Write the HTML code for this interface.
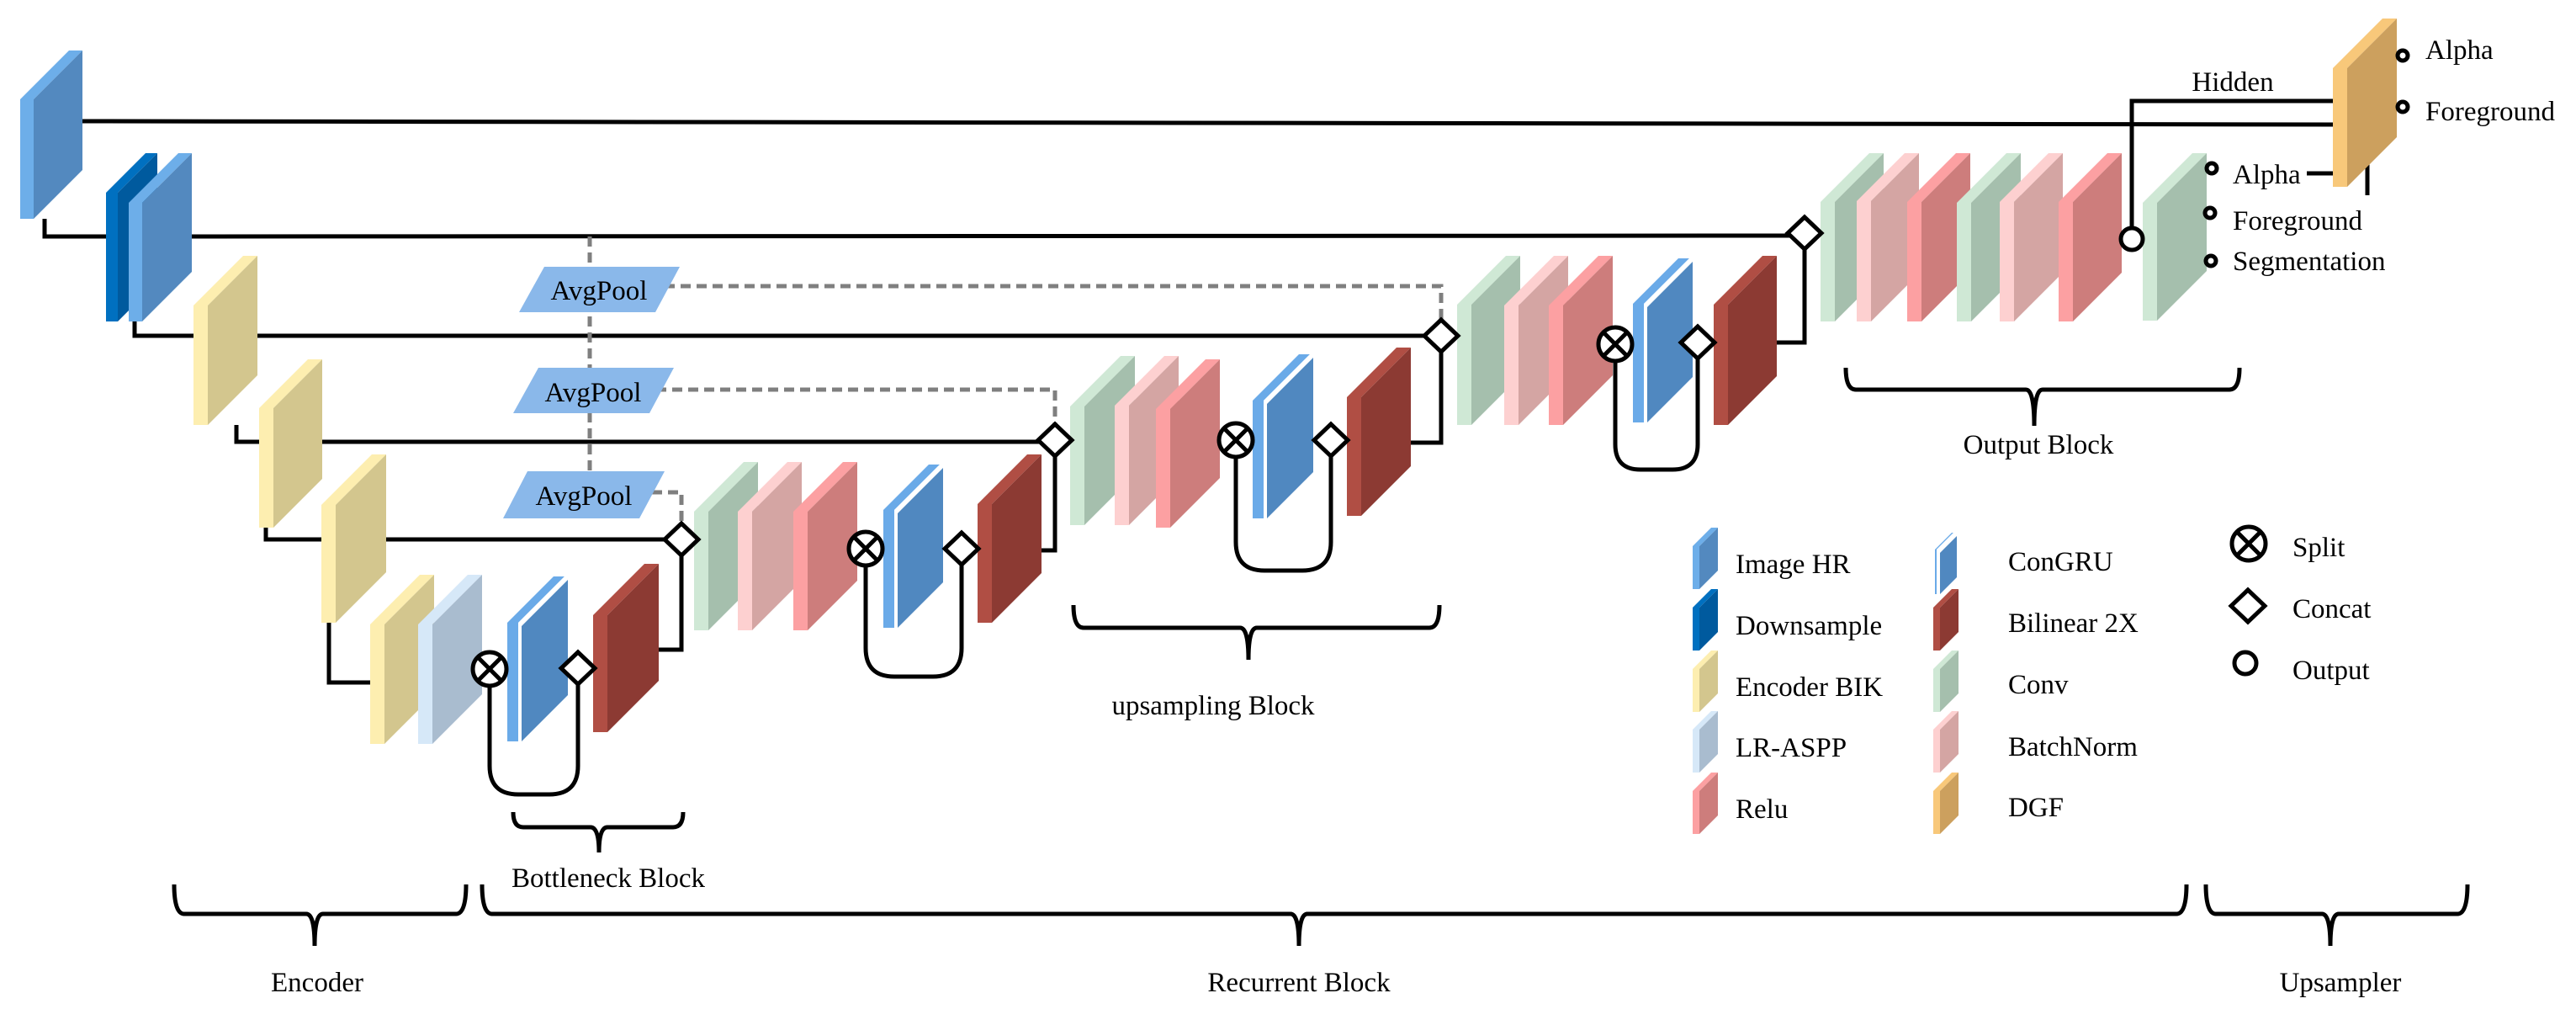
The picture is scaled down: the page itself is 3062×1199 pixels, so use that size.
<!DOCTYPE html>
<html><head><meta charset="utf-8"><style>
html,body{margin:0;padding:0;background:#fff;}
svg{display:block;}
svg text{font-family:"Liberation Serif","Times New Roman",Times,serif;fill:#000;}
</style></head><body>
<svg id="s" width="3062" height="1199" viewBox="0 0 3062 1199" xmlns="http://www.w3.org/2000/svg" font-family="'Liberation Serif','Times New Roman',Times,serif">
<g id="lines" fill="none" stroke="#000" stroke-width="5">
<polyline points="98,144 2773,148"/>
<polyline points="2534,284 2534,120 2773,120"/>
<polyline points="53,260 53,281 126,281"/>
<polyline points="228,281 2145,280"/>
<polyline points="160,382 160,399 1713,399"/>
<polyline points="281,505 281,525 1254,525"/>
<polyline points="316,627 316,641 810,641"/>
<polyline points="391,740 391,811 440,811"/>
<polyline points="783,772 810,772 810,660"/>
<polyline points="1238,654 1254,654 1254,542"/>
<polyline points="1677,526 1713,526 1713,418"/>
<polyline points="2112,407 2145,407 2145,296"/>
<polyline points="2742,206 2773,206"/>
<polyline points="2814,195 2814,232"/>
<path d="M582,815 L582,910 Q582,944 616,944 L653,944 Q687,944 687,910 L687,813"/>
<path d="M1029,672 L1029,770 Q1029,804 1063,804 L1109,804 Q1143,804 1143,770 L1143,671"/>
<path d="M1469,543 L1469,644 Q1469,678 1503,678 L1548,678 Q1582,678 1582,644 L1582,542"/>
<path d="M1920,429 L1920,528 Q1920,558 1950,558 L1988,558 Q2018,558 2018,528 L2018,426"/>
</g>
<g fill="none" stroke="#7f7f7f" stroke-width="5" stroke-dasharray="12 7">
<polyline points="701,281 701,560"/>
<polyline points="790,340 1713,340 1713,380"/>
<polyline points="780,463 1254,463 1254,504"/>
<polyline points="775,585 810,585 810,622"/>
</g>
<g fill="#8ab8ea">
<polygon points="647,317 808,317 779,371 617,371"/>
<polygon points="640,437 801,437 772,491 610,491"/>
<polygon points="627,560 790,560 760,616 598,616"/>
</g>
<g font-size="33" text-anchor="middle" font-family="'Liberation Serif','Times New Roman',Times,serif">
<text x="712" y="356">AvgPool</text>
<text x="705" y="477">AvgPool</text>
<text x="694" y="600">AvgPool</text>
</g>
<g id="blocks"></g>
<g id="marks" fill="#fff" stroke="#000" stroke-width="5"></g>
<g id="braces" fill="none" stroke="#000" stroke-width="5"></g>
<g font-size="33" font-family="'Liberation Serif','Times New Roman',Times,serif">
<text x="2654" y="108" text-anchor="middle">Hidden</text>
<text x="2654" y="218">Alpha</text>
<text x="2654" y="273">Foreground</text>
<text x="2654" y="321">Segmentation</text>
<text x="2883" y="70">Alpha</text>
<text x="2883" y="143">Foreground</text>
<text x="2423" y="539" text-anchor="middle">Output Block</text>
<text x="1442" y="849" text-anchor="middle">upsampling Block</text>
<text x="723" y="1054" text-anchor="middle">Bottleneck Block</text>
<text x="377" y="1178" text-anchor="middle">Encoder</text>
<text x="1544" y="1178" text-anchor="middle">Recurrent Block</text>
<text x="2782" y="1178" text-anchor="middle">Upsampler</text>
<text x="2063" y="681">Image HR</text>
<text x="2063" y="754">Downsample</text>
<text x="2063" y="827">Encoder BIK</text>
<text x="2063" y="899">LR-ASPP</text>
<text x="2063" y="972">Relu</text>
<text x="2387" y="678">ConGRU</text>
<text x="2387" y="751">Bilinear 2X</text>
<text x="2387" y="824">Conv</text>
<text x="2387" y="898">BatchNorm</text>
<text x="2387" y="970">DGF</text>
<text x="2725" y="661">Split</text>
<text x="2725" y="734">Concat</text>
<text x="2725" y="807">Output</text>
</g>
</svg>
<script>
var NS="http://www.w3.org/2000/svg";
var C={hr:["#6daee9","#5389bf"],ds:["#0070c0","#005a9e"],enc:["#fdeeb0","#d3c68e"],lr:["#d6e8f8","#a9bccf"],
gru:["#6aaae8","#5088c0"],bil:["#b04e44","#8c3a33"],conv:["#cfe8d5","#a5bfad"],bn:["#fdd0d0","#d4a5a3"],
relu:["#fca0a2","#cd7d7c"],dgf:["#f8c87a","#cca05e"]};
var B=document.getElementById("blocks");
function poly(pts,fill){var p=document.createElementNS(NS,"polygon");p.setAttribute("points",pts.map(function(a){return a.join(",")}).join(" "));p.setAttribute("fill",fill);B.appendChild(p);}
function blk(t,x1,x2,y1,y2,s){
 s=s||17;var dx=x2-x1-s,dy=dx;var c=C[t];
 if(t=="gru"){
  var s1=s-4;
  poly([[x1,y1+dy],[x1+dx,y1],[x1+dx+s1,y1],[x1+s1,y1+dy]],c[0]);
  poly([[x1,y1+dy],[x1+s1,y1+dy],[x1+s1,y2],[x1,y2]],c[0]);
  poly([[x1+s1,y1+dy],[x1+s1+dx,y1],[x1+s+dx,y1],[x1+s+dx,y1+4],[x1+s,y1+dy+4],[x1+s,y2],[x1+s1,y2]],"#ffffff");
  poly([[x1+s,y1+dy+4],[x1+s+dx,y1+4],[x1+s+dx,y2-dy],[x1+s,y2]],c[1]);
  return;
 }
 poly([[x1,y1+dy],[x1+dx,y1],[x1+dx+s,y1],[x1+s,y1+dy]],c[0]);
 poly([[x1,y1+dy],[x1+s,y1+dy],[x1+s,y2],[x1,y2]],c[0]);
 poly([[x1+s,y1+dy],[x1+s+dx,y1],[x1+s+dx,y2-dy],[x1+s,y2]],c[1]);
}
blk("hr",24,98,60,260,16);
blk("ds",126,187,182,382,14);
blk("hr",153,228,182,382,16);
blk("enc",230,306,304,505);
blk("enc",308,383,427,627);
blk("enc",382,459,540,740);
blk("enc",440,516,683,884);
blk("lr",497,573,683,884);
blk("gru",603,675,685,881);
blk("bil",705,783,670,870);
blk("conv",825,901,549,749);
blk("bn",877,953,549,749);
blk("relu",943,1019,549,749);
blk("gru",1050,1121,552,746);
blk("bil",1162,1238,540,740);
blk("conv",1272,1349,423,624);
blk("bn",1325,1401,423,624);
blk("relu",1374,1450,427,627);
blk("gru",1489,1561,421,616);
blk("bil",1601,1677,413,613);
blk("conv",1732,1807,304,505);
blk("bn",1788,1864,304,505);
blk("relu",1841,1917,304,505);
blk("gru",1941,2012,307,502);
blk("bil",2037,2112,304,505);
blk("conv",2164,2239,182,382);
blk("bn",2207,2281,182,382);
blk("relu",2267,2342,182,382);
blk("conv",2326,2402,182,382);
blk("bn",2377,2452,182,382);
blk("relu",2447,2522,182,382);
blk("conv",2547,2623,182,381);
blk("dgf",2773,2849,22,222);
function sw(t,x,y,s,dx){s=s||8;dx=dx||22;blk(t,x,x+s+dx,y,y+73,s);}
sw("hr",2012,627);sw("ds",2012,700);sw("enc",2012,773);sw("lr",2012,845);sw("relu",2012,918);
sw("gru",2300,633,6,20);sw("bil",2298,700);sw("conv",2298,773);sw("bn",2298,845);sw("dgf",2298,918);
var M=document.getElementById("marks");
function el(tag,attrs,par){var e=document.createElementNS(NS,tag);for(var k in attrs)e.setAttribute(k,attrs[k]);(par||M).appendChild(e);return e;}
function split(x,y,r){el("circle",{cx:x,cy:y,r:r});var d=r*0.7;el("path",{d:"M"+(x-d)+","+(y-d)+"L"+(x+d)+","+(y+d)+"M"+(x+d)+","+(y-d)+"L"+(x-d)+","+(y+d),fill:"none"});}
function dia(x,y,w,h){w=w||20;h=h||19;el("polygon",{points:[x-w,y,x,y-h,x+w,y,x,y+h].join(" ")});}
split(582,795,20);dia(687,794);
split(1029,652,20);dia(1143,652);
split(1469,523,20);dia(1582,523);
split(1920,409,20);dia(2018,407);
dia(810,641);dia(1254,523);dia(1713,399);dia(2145,277);
el("circle",{cx:2534,cy:284,r:13});
el("circle",{cx:2629,cy:200,r:6});el("circle",{cx:2627,cy:253,r:6});el("circle",{cx:2628,cy:310,r:6});
el("circle",{cx:2856,cy:66,r:6});el("circle",{cx:2856,cy:127,r:6});
split(2673,646,20);dia(2672,720,20,19);el("circle",{cx:2669,cy:788,r:13});
var BR=document.getElementById("braces");
function brace(x1,x2,cx,yt,yh,yb){
 el("path",{d:"M"+x1+","+yt+" Q"+x1+","+yh+" "+(x1+12)+","+yh+" L"+(cx-10)+","+yh+" Q"+cx+","+yh+" "+cx+","+yb+" Q"+cx+","+yh+" "+(cx+10)+","+yh+" L"+(x2-12)+","+yh+" Q"+x2+","+yh+" "+x2+","+yt},BR);
}
brace(610,812,712,965,983,1013);
brace(207,554,374,1051,1086,1124);
brace(573,2599,1544,1051,1086,1124);
brace(2622,2933,2770,1051,1086,1124);
brace(1276,1711,1484,719,746,784);
brace(2194,2662,2418,437,463,506);
</script>
</body></html>
